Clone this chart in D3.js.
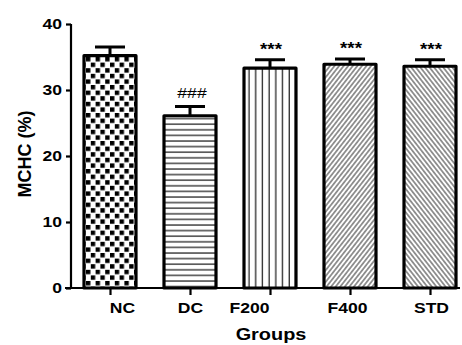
<!DOCTYPE html>
<html>
<head>
<meta charset="utf-8">
<script src="https://cdn.jsdelivr.net/npm/d3@7"></script>
<style>
  html, body { margin: 0; padding: 0; background: #fff; }
  svg { display: block; }
  text { font-family: "Liberation Sans", Arial, sans-serif; font-weight: bold; fill: #000; }
</style>
</head>
<body>
<svg id="chart" width="462" height="345"></svg>
<script>
// MCHC per treatment group (mean, SEM) and significance marks
const groups = ["NC", "DC", "F200", "F400", "STD"];
const means = [35.2, 26.1, 33.3, 33.9, 33.6];
const sems = [1.3, 1.4, 1.3, 0.8, 1.0];
const marks = ["", "###", "***", "***", "***"];
const yTicks = [0, 10, 20, 30, 40];

// label nudges along the category axis (px)
const labelShift = [12, 0, -21, -3, 1];
const patternIds = ["checker", "hlines", "vlines", "diagR", "diagL"];

const svg = d3.select("#chart");
const sx = 1.17; // horizontal text stretch

const y = d3.scaleLinear().domain([0, 40]).range([288, 24]);
const x = d3.scalePoint().domain(groups).range([110, 430]);
const barW = 52;

const defs = svg.append("defs");
// checkerboard
const pc = defs.append("pattern").attr("id", "checker").attr("patternUnits", "userSpaceOnUse")
  .attr("width", 9.6).attr("height", 11.2).attr("x", 86).attr("y", 57);
pc.append("rect").attr("width", 9.6).attr("height", 11.2).attr("fill", "#fff");
pc.append("rect").attr("x", 0).attr("y", 0).attr("width", 4.4).attr("height", 4.4).attr("fill", "#000");
pc.append("rect").attr("x", 4.8).attr("y", 5.6).attr("width", 4.4).attr("height", 4.4).attr("fill", "#000");
// horizontal lines
const ph = defs.append("pattern").attr("id", "hlines").attr("patternUnits", "userSpaceOnUse")
  .attr("width", 10).attr("height", 5.6);
ph.append("rect").attr("width", 10).attr("height", 5.6).attr("fill", "#fff");
ph.append("line").attr("x1", 0).attr("x2", 10).attr("y1", 1).attr("y2", 1).attr("stroke", "#000").attr("stroke-width", 1.1);
// vertical lines
const pv = defs.append("pattern").attr("id", "vlines").attr("patternUnits", "userSpaceOnUse")
  .attr("width", 6.7).attr("height", 10).attr("x", 243);
pv.append("rect").attr("width", 6.7).attr("height", 10).attr("fill", "#fff");
pv.append("line").attr("y1", 0).attr("y2", 10).attr("x1", 6).attr("x2", 6).attr("stroke", "#000").attr("stroke-width", 1.1);
// diagonals
function diag(id, angle) {
  const p = defs.append("pattern").attr("id", id).attr("patternUnits", "userSpaceOnUse")
    .attr("width", 3.6).attr("height", 10).attr("patternTransform", `rotate(${angle})`);
  p.append("rect").attr("width", 3.6).attr("height", 10).attr("fill", "#fff");
  p.append("line").attr("y1", 0).attr("y2", 10).attr("x1", 1.8).attr("x2", 1.8).attr("stroke", "#555").attr("stroke-width", 1.2);
}
diag("diagR", 38);
diag("diagL", -38);

// bars
const data = groups.map((g, i) => ({ g, m: means[i], e: sems[i], mark: marks[i], pat: patternIds[i], shift: labelShift[i] }));

svg.append("g").selectAll("path.err").data(data).join("path")
  .attr("d", d => {
    const cx = x(d.g), top = y(d.m + d.e);
    return `M${cx},${y(d.m)}V${top}M${cx - 15},${top}H${cx + 15}`;
  })
  .attr("stroke", "#000").attr("stroke-width", 3).attr("fill", "none");

svg.append("g").selectAll("rect").data(data).join("rect")
  .attr("x", d => x(d.g) - barW / 2)
  .attr("y", d => y(d.m))
  .attr("width", barW)
  .attr("height", d => y(0) - y(d.m))
  .attr("fill", d => `url(#${d.pat})`)
  .attr("stroke", "#000").attr("stroke-width", 3.2).attr("stroke-linejoin", "round");

// significance marks
svg.append("g").selectAll("text").data(data.filter(d => d.mark)).join("text")
  .attr("transform", d => d.mark === "###"
    ? `translate(${x(d.g) + 2},${y(d.m + d.e) - 9}) scale(${sx},1)`
    : `translate(${x(d.g) + 1},${y(d.m + d.e) - 5}) scale(${sx},1)`)
  .attr("text-anchor", "middle")
  .style("font-size", d => d.mark === "###" ? "15px" : "16px")
  .style("font-weight", d => d.mark === "###" ? "normal" : "bold")
  .text(d => d.mark);

// y axis
const yAxis = d3.axisLeft(y).tickValues(yTicks).tickSize(5).tickPadding(4).tickFormat(d3.format("d"));
const gy = svg.append("g").attr("transform", "translate(71,0)").call(yAxis);
gy.select(".domain").attr("d", `M0,${y(40)}V${y(0)}`).attr("stroke-width", 2.2);
gy.selectAll(".tick line").attr("stroke-width", 2.2);
gy.selectAll(".tick text").style("font-size", "15px").attr("font-family", null)
  .attr("transform", `scale(${sx},1)`)
  .attr("x", -9 / sx);

// x axis
const xAxis = d3.axisBottom(x).tickSize(7).tickSizeOuter(0).tickPadding(7);
const gx = svg.append("g").attr("transform", `translate(0,${y(0)})`).call(xAxis);
gx.select(".domain").attr("d", "M65,0H460").attr("stroke-width", 2.2);
gx.selectAll(".tick line").attr("stroke-width", 2.2);
gx.selectAll(".tick text").style("font-size", "15px").attr("font-family", null)
  .attr("transform", (d, i) => `translate(${labelShift[i]},0) scale(${sx},1)`);
gx.attr("font-family", null).attr("font-size", null);
gy.attr("font-family", null).attr("font-size", null);

// axis titles
svg.append("text")
  .attr("transform", `translate(271,340) scale(${sx},1)`)
  .attr("text-anchor", "middle").style("font-size", "17px")
  .text("Groups");
svg.append("text")
  .attr("transform", "translate(31,154) rotate(-90)")
  .attr("text-anchor", "middle").style("font-size", "18px")
  .text("MCHC (%)");
</script>
</body>
</html>
